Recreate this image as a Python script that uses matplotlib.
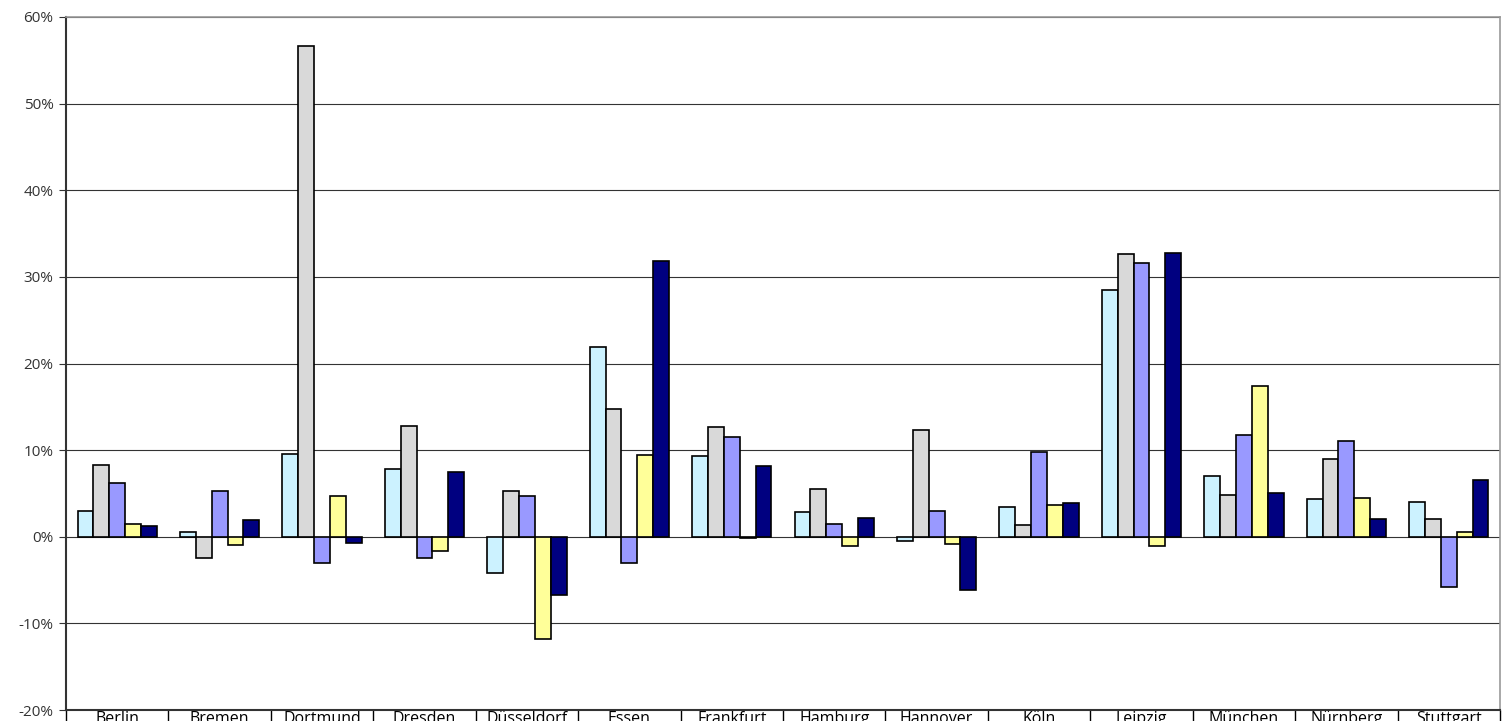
import numpy as np
import matplotlib
matplotlib.use("Agg")
import matplotlib.pyplot as plt
from matplotlib.ticker import FuncFormatter, FixedLocator

cities = ["Berlin", "Bremen", "Dortmund", "Dresden", "Düsseldorf", "Essen", "Frankfurt",
          "Hamburg", "Hannover", "Köln", "Leipzig", "München", "Nürnberg", "Stuttgart"]

s1 = [3.0, 0.6, 9.6, 7.8, -4.2, 21.9, 9.3, 2.8, -0.5, 3.4, 28.5, 7.0, 4.35, 4.0]
s2 = [8.3, -2.4, 56.6, 12.8, 5.3, 14.7, 12.7, 5.5, 12.35, 1.3, 32.6, 4.8, 9.0, 2.0]
s3 = [6.2, 5.3, -3.0, -2.5, 4.65, -3.0, 11.5, 1.5, 3.0, 9.8, 31.6, 11.8, 11.0, -5.8]
s4 = [1.5, -0.9, 4.65, -1.7, -11.8, 9.4, -0.15, -1.1, -0.85, 3.7, -1.1, 17.4, 4.45, 0.6]
s5 = [1.2, 1.9, -0.7, 7.5, -6.7, 31.8, 8.15, 2.15, -6.2, 3.9, 32.7, 5.1, 2.0, 6.6]

series = [s1, s2, s3, s4, s5]
colors = ["#CCF2FF", "#D9D9D9", "#9999FF", "#FFFF99", "#000080"]

plt.rcParams["font.family"] = ["Open Sans", "DejaVu Sans"]

fig = plt.figure(figsize=(15.08, 7.21), dpi=100)
ax = fig.add_axes([66 / 1508, 11 / 721, 1434 / 1508, 693 / 721])

x = np.arange(len(cities))
w = 0.155
for i, (vals, c) in enumerate(zip(series, colors)):
    ax.bar(x + (i - 2) * w, vals, width=w, color=c, edgecolor="black", linewidth=1.2, zorder=3)

ax.set_xlim(-0.5, len(cities) - 0.5)
ax.set_ylim(-20, 60)
ax.set_yticks(np.arange(-20, 61, 10))
ax.yaxis.set_major_formatter(FuncFormatter(lambda v, p: f"{v:.0f}%"))
ax.grid(axis="y", color="#333333", linewidth=0.8, zorder=0)
ax.tick_params(axis="y", length=5, labelsize=11, colors="#333333", pad=4)

ax.set_xticks(x)
ax.set_xticklabels(cities, fontsize=11.5)
ax.tick_params(axis="x", which="major", length=0, pad=1)
ax.xaxis.set_minor_locator(FixedLocator(np.arange(-0.5, len(cities), 1.0)))
ax.tick_params(axis="x", which="minor", length=12, width=1, color="black")

for sp in ["left", "bottom"]:
    ax.spines[sp].set_linewidth(1.5)
    ax.spines[sp].set_color("#333333")
for sp in ["top", "right"]:
    ax.spines[sp].set_linewidth(1.2)
    ax.spines[sp].set_color("#999999")

fig.savefig("out.png", dpi=100)
